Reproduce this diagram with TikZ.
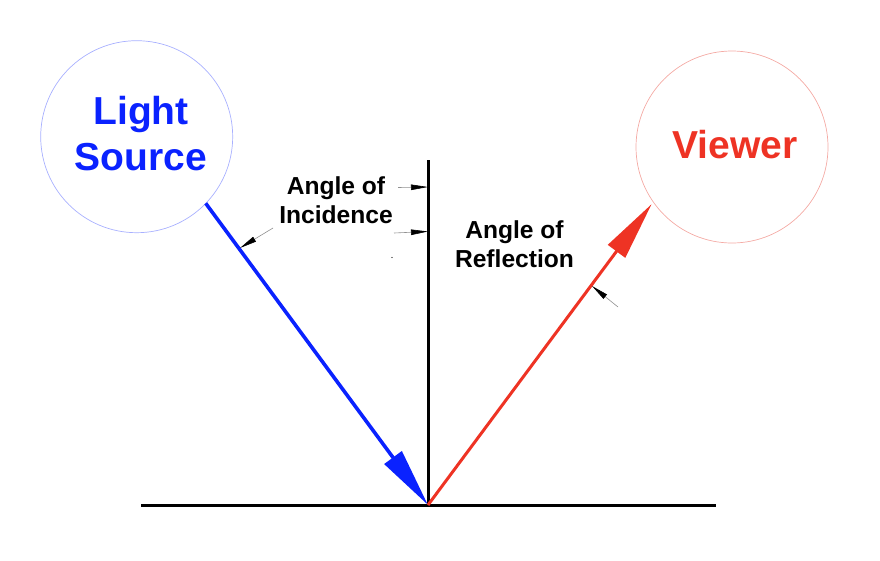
\documentclass[tikz,border=0pt]{standalone}
\usepackage{fontspec}
\setmainfont{Liberation Sans}
\usetikzlibrary{arrows.meta}
\definecolor{rayblue}{HTML}{0A22FF}
\definecolor{rayred}{HTML}{EE3324}
\definecolor{ringblue}{HTML}{A8B0FF}
\definecolor{ringred}{HTML}{F4AAA4}
\definecolor{leadgray}{HTML}{909090}
\begin{document}
\begin{tikzpicture}[x=1pt,y=-1pt,
  ring/.style={draw,line width=0.7pt,circle,minimum size=192pt,inner sep=0pt},
  bigtext/.style={font=\fontsize{39}{46}\selectfont\bfseries,inner sep=0pt,align=center},
  labeltext/.style={font=\fontsize{24.6}{29}\selectfont\bfseries,inner sep=0pt,align=center},
  surface/.style={line width=3pt,black},
  ray/.style={line width=3.6pt,-{Triangle[length=59pt,width=21pt]}},
  leader/.style={leadgray,line width=0.6pt,-{Triangle[length=17pt,width=5.5pt,color=black]}}
]
\useasboundingbox (0,0) rectangle (880,560);
% circles
\node[ring,draw=ringblue] (src) at (136.7,136.7) {};
\node[ring,draw=ringred] (view) at (732,147) {};
\node[bigtext,text=rayblue] (srclabel) at (141,134) {Light\\Source};
\node[bigtext,text=rayred,anchor=base] (viewlabel) at (735,158) {Viewer};
% surface and normal
\coordinate (hl) at (141,505);
\coordinate (hr) at (716,505);
\coordinate (hit) at (428,505);
\coordinate (ntop) at (428,160);
\draw[surface] (hl) -- (hr);
\draw[surface] (hit) -- (ntop);
% rays
\coordinate (rin) at (205.7,203.3);
\coordinate (rout) at (651.7,204);
\draw[ray,rayblue] (rin) -- (hit);
\draw[ray,rayred,line width=3pt] (hit) -- (rout);
% labels
\node[labeltext] (inc) at (336,200.5) {Angle of\\Incidence};
\node[labeltext] (refl) at (514.5,244.5) {Angle of\\Reflection};
% leaders
\coordinate (l1s) at (398,187.5);
\coordinate (l1e) at (428,187);
\coordinate (l2s) at (394,233);
\coordinate (l2e) at (428,231.5);
\coordinate (l3s) at (273,228);
\coordinate (l3e) at (240,248);
\coordinate (l4s) at (618,307);
\coordinate (l4e) at (592,286);
\draw[leader] (l1s) -- (l1e);
\draw[leader] (l2s) -- (l2e);
\draw[leader] (l3s) -- (l3e);
\draw[leader] (l4s) -- (l4e);
\fill (392,257.5) circle (0.7pt);
\end{tikzpicture}
\end{document}
